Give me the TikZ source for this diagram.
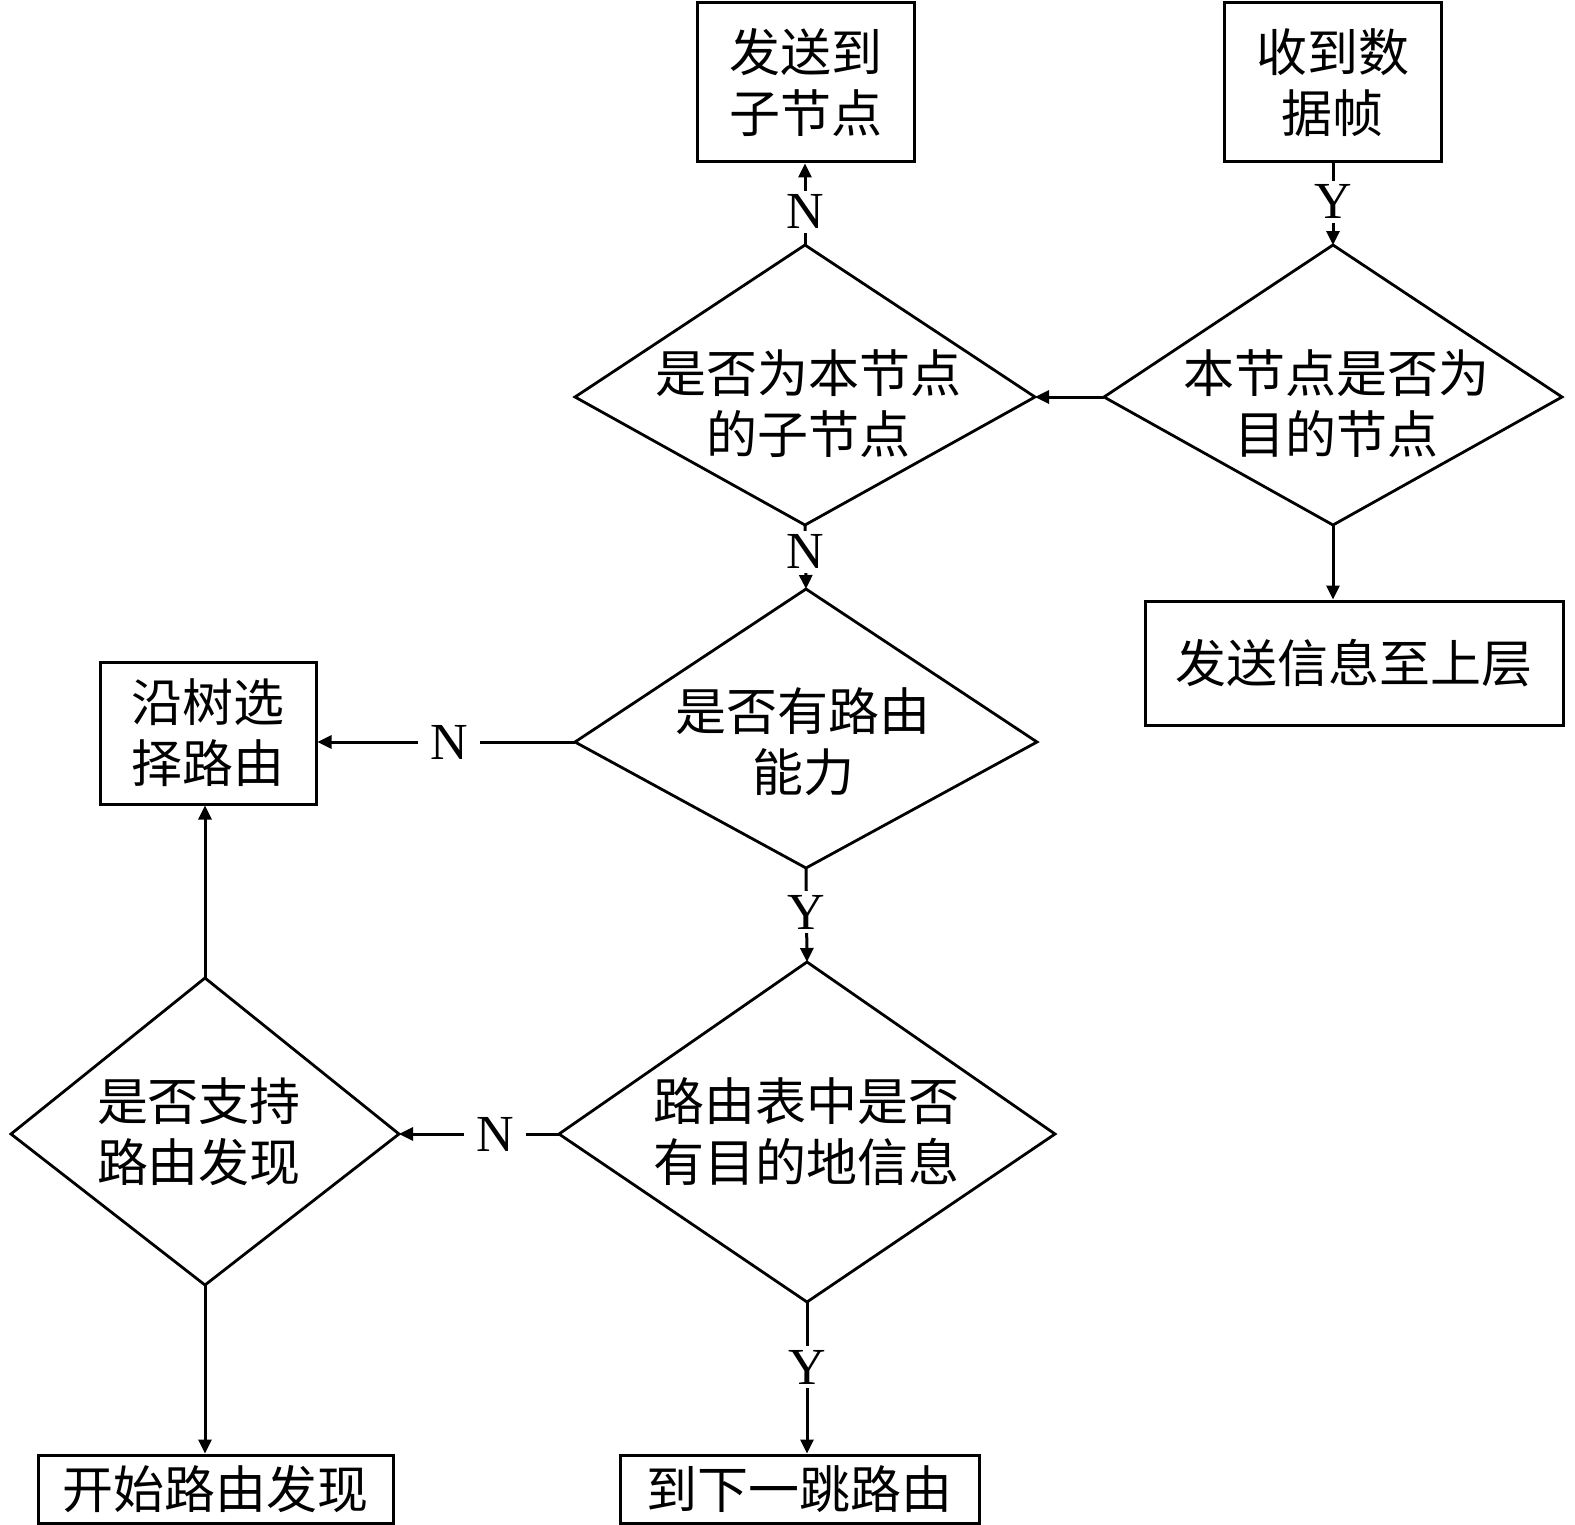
\documentclass[tikz,border=0pt]{standalone}
\usepackage{fontspec}
\setmainfont{Liberation Serif}
\newfontfamily\cjk{Noto Sans CJK SC}
\usetikzlibrary{arrows.meta}
\newcommand\mykite[6]{% name, cx, top, mid, bottom, halfwidth
  \coordinate (#1-t) at (#2,#3);
  \coordinate (#1-b) at (#2,#5);
  \coordinate (#1-l) at ({#2-#6},#4);
  \coordinate (#1-r) at ({#2+#6},#4);
  \draw[shp] (#1-t) -- (#1-r) -- (#1-b) -- (#1-l) -- cycle;
}
\begin{document}
\begin{tikzpicture}[x=0.5pt,y=-0.5pt,
  shp/.style={line width=1.4pt, line join=miter},
  box/.style={draw, line width=1.5pt, inner sep=0pt, align=center,
    font=\cjk\fontsize{25.5pt}{30.5pt}\selectfont},
  txt/.style={inner sep=0pt, align=center,
    font=\cjk\fontsize{25.5pt}{30.5pt}\selectfont},
  arr/.style={line width=1.5pt, -{Triangle[length=7pt,width=6.5pt]}},
  lab/.style={fill=white, inner xsep=6pt, inner ysep=2pt,
    font=\fontsize{26pt}{28pt}\selectfont}]
\useasboundingbox (0,0) rectangle (1575,1525);
\fill[white] (0,0) rectangle (1575,1525);

% boxes
\node[box, minimum width=108.5pt, minimum height=79.5pt] (b1) at (805.5,82.5) {发送到\\子节点};
\node[box, minimum width=108.5pt, minimum height=79.5pt] (b2) at (1332.5,82.5) {收到数\\据帧};
\node[box, minimum width=209pt, minimum height=62pt] (b3) at (1354,663) {发送信息至上层};
\node[box, minimum width=108pt, minimum height=71pt] (b4) at (208,733) {沿树选\\择路由};
\node[box, minimum width=177.5pt, minimum height=34pt] (b5) at (215.5,1489) {开始路由发现};
\node[box, minimum width=179.5pt, minimum height=34pt] (b6) at (799.5,1489) {到下一跳路由};

% decision shapes
\mykite{d1}{805}{245}{397}{525}{230}
\mykite{d2}{1333}{245}{397}{525}{229}
\mykite{d3}{806}{589}{742}{868}{231}
\mykite{d4}{807}{962}{1134}{1302}{248}
\mykite{d5}{205}{978}{1134}{1285}{194}

\node[txt] (t1) at (808,404) {是否为本节点\\的子节点};
\node[txt] (t2) at (1336,404) {本节点是否为\\目的节点};
\node[txt] (t3) at (803,742) {是否有路由\\能力};
\node[txt] (t4) at (806,1132) {路由表中是否\\有目的地信息};
\node[txt] (t5) at (199,1132) {是否支持\\路由发现};

% connectors
\draw[arr] (d1-t) -- node[lab,pos=0.41]{N} (d1-t |- b1.south);
\draw[arr] (d2-t |- b2.south) -- node[lab,pos=0.47]{Y} (d2-t);
\draw[arr] (d2-l) -- (d1-r);
\draw[arr] (d1-b) -- node[lab,pos=0.42]{N} (d3-t);
\draw[arr] (d2-b) -- (d2-b |- b3.north);
\draw[arr] (d3-l) -- node[lab,pos=0.49]{N} (d3-l -| b4.east);
\draw[arr] (d3-b) -- node[lab,pos=0.47]{Y} (d4-t);
\draw[arr] (d4-l) -- node[lab,pos=0.40]{N} (d5-r);
\draw[arr] (d4-b) -- node[lab,pos=0.43]{Y} (d4-b |- b6.north);
\draw[arr] (d5-t) -- (d5-t |- b4.south);
\draw[arr] (d5-b) -- (d5-b |- b5.north);
\end{tikzpicture}
\end{document}
